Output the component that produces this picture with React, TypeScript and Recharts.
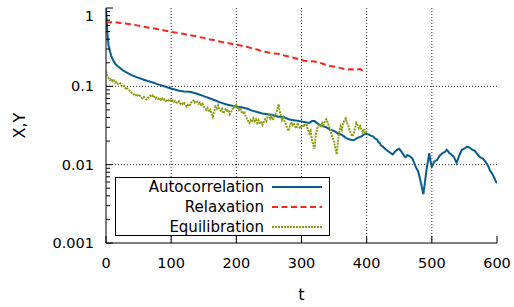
import React from 'react';
import { LineChart, Line, XAxis, YAxis, CartesianGrid, Legend } from 'recharts';

const autocorrelation: [number, number][] = [
  [0, 1.0], [1, 0.72], [2, 0.5], [3, 0.39], [4, 0.33], [6, 0.28], [8, 0.245], [11, 0.215], [15, 0.19],
  [20, 0.175], [26, 0.16], [32, 0.15], [40, 0.138], [48, 0.13], [56, 0.123], [64, 0.117], [72, 0.112],
  [80, 0.106], [88, 0.101], [96, 0.096], [104, 0.092], [112, 0.088], [120, 0.086], [128, 0.085], [136, 0.082],
  [144, 0.078], [152, 0.074], [160, 0.07], [168, 0.066], [176, 0.062], [184, 0.059], [192, 0.057], [200, 0.055],
  [208, 0.054], [216, 0.052], [224, 0.049], [232, 0.047], [240, 0.045], [248, 0.044], [256, 0.043], [264, 0.041],
  [272, 0.041], [280, 0.038], [288, 0.037], [296, 0.036], [304, 0.035], [312, 0.034], [316, 0.036], [320, 0.036],
  [326, 0.033], [332, 0.031], [338, 0.03], [344, 0.028], [350, 0.027], [356, 0.025], [362, 0.024], [368, 0.022],
  [374, 0.021], [380, 0.0205], [386, 0.022], [392, 0.023], [398, 0.025], [402, 0.0245], [406, 0.0235], [410, 0.023],
  [413, 0.0215], [416, 0.021], [418, 0.0195], [420, 0.019], [422, 0.0175], [425, 0.017], [427, 0.0162],
  [430, 0.0155], [433, 0.0148], [435, 0.0145], [438, 0.0138], [440, 0.0135], [443, 0.0145], [445, 0.015],
  [448, 0.0158], [450, 0.016], [453, 0.0148], [455, 0.014], [458, 0.0128], [460, 0.0125], [462, 0.0132],
  [465, 0.013], [468, 0.0124], [470, 0.012], [473, 0.0105], [475, 0.0095], [479, 0.0082], [483, 0.006],
  [487, 0.0042], [490, 0.0065], [492, 0.0088], [494, 0.011], [496, 0.014], [498, 0.011], [500, 0.0095],
  [504, 0.011], [508, 0.0115], [512, 0.013], [516, 0.014], [520, 0.0145], [523, 0.0155], [527, 0.014],
  [530, 0.0135], [534, 0.0125], [538, 0.0105], [542, 0.013], [546, 0.0155], [550, 0.016], [554, 0.017],
  [558, 0.0165], [562, 0.0155], [566, 0.015], [570, 0.0135], [574, 0.0125], [578, 0.012], [582, 0.011],
  [586, 0.0098], [589, 0.0085], [592, 0.0078], [595, 0.007], [598, 0.0062], [600, 0.0058],
];

const relaxation: [number, number][] = [
  [0, 0.66], [8, 0.66], [16, 0.655], [24, 0.645], [32, 0.63], [40, 0.615], [48, 0.6], [56, 0.58], [64, 0.565],
  [72, 0.55], [80, 0.535], [88, 0.52], [96, 0.505], [104, 0.49], [112, 0.478], [120, 0.465], [128, 0.45],
  [136, 0.44], [144, 0.425], [152, 0.41], [160, 0.395], [168, 0.385], [176, 0.37], [184, 0.36], [192, 0.35],
  [200, 0.34], [208, 0.33], [216, 0.32], [224, 0.305], [232, 0.295], [240, 0.28], [248, 0.272], [256, 0.263],
  [264, 0.26], [272, 0.25], [280, 0.24], [288, 0.232], [296, 0.222], [304, 0.212], [312, 0.21], [320, 0.208],
  [328, 0.2], [336, 0.19], [344, 0.182], [352, 0.177], [360, 0.172], [368, 0.164], [376, 0.165], [384, 0.163],
  [390, 0.166], [394, 0.158], [398, 0.148],
];

const equilibration: [number, number][] = [
  [0, 0.155], [2, 0.138], [4, 0.127], [6, 0.121], [8, 0.125], [10, 0.116], [12, 0.119], [14, 0.111], [16, 0.114],
  [18, 0.108], [20, 0.106], [22, 0.109], [24, 0.101], [26, 0.098], [28, 0.101], [30, 0.094], [32, 0.097],
  [34, 0.091], [36, 0.088], [38, 0.086], [40, 0.082], [42, 0.079], [44, 0.081], [46, 0.077], [48, 0.079],
  [50, 0.074], [52, 0.076], [54, 0.072], [56, 0.07], [58, 0.073], [60, 0.07], [62, 0.068], [64, 0.071],
  [66, 0.073], [68, 0.076], [70, 0.073], [72, 0.077], [74, 0.074], [76, 0.07], [78, 0.072], [80, 0.069],
  [82, 0.071], [84, 0.067], [86, 0.07], [88, 0.066], [90, 0.068], [92, 0.065], [94, 0.068], [96, 0.066],
  [98, 0.068], [100, 0.064], [102, 0.066], [104, 0.063], [106, 0.065], [108, 0.062], [110, 0.061], [112, 0.064],
  [114, 0.06], [116, 0.062], [118, 0.059], [120, 0.061], [122, 0.057], [124, 0.055], [126, 0.058], [128, 0.056],
  [130, 0.061], [132, 0.064], [134, 0.066], [136, 0.062], [138, 0.065], [140, 0.063], [142, 0.06], [144, 0.062],
  [146, 0.058], [148, 0.06], [150, 0.055], [152, 0.052], [154, 0.05], [156, 0.053], [158, 0.047], [160, 0.05],
  [162, 0.046], [164, 0.041], [166, 0.048], [168, 0.055], [170, 0.052], [172, 0.057], [174, 0.051], [176, 0.049],
  [178, 0.052], [180, 0.045], [182, 0.049], [184, 0.052], [186, 0.047], [188, 0.05], [190, 0.044], [192, 0.047],
  [194, 0.051], [196, 0.055], [198, 0.052], [200, 0.058], [202, 0.054], [204, 0.05], [206, 0.053], [208, 0.047],
  [210, 0.045], [212, 0.048], [214, 0.042], [216, 0.039], [218, 0.036], [220, 0.034], [222, 0.037], [224, 0.035],
  [226, 0.039], [228, 0.036], [230, 0.038], [232, 0.034], [234, 0.037], [236, 0.033], [238, 0.036], [240, 0.032],
  [242, 0.035], [244, 0.038], [246, 0.036], [248, 0.041], [250, 0.043], [252, 0.039], [254, 0.042], [256, 0.037],
  [258, 0.041], [260, 0.044], [262, 0.048], [264, 0.056], [265, 0.059], [266, 0.05], [268, 0.043], [270, 0.037],
  [272, 0.04], [274, 0.036], [276, 0.033], [278, 0.029], [280, 0.027], [282, 0.031], [284, 0.035], [286, 0.032],
  [288, 0.034], [290, 0.031], [292, 0.029], [294, 0.034], [296, 0.031], [298, 0.029], [300, 0.032], [302, 0.03],
  [304, 0.033], [306, 0.031], [308, 0.032], [310, 0.028], [312, 0.025], [314, 0.027], [316, 0.021], [318, 0.018],
  [320, 0.016], [322, 0.024], [324, 0.029], [326, 0.031], [328, 0.033], [330, 0.03], [332, 0.034], [334, 0.032],
  [336, 0.036], [338, 0.038], [340, 0.035], [342, 0.031], [344, 0.028], [346, 0.024], [348, 0.022], [350, 0.02],
  [352, 0.016], [354, 0.0135], [356, 0.02], [358, 0.027], [360, 0.031], [362, 0.028], [364, 0.034], [366, 0.037],
  [368, 0.039], [370, 0.034], [372, 0.031], [374, 0.027], [376, 0.025], [378, 0.023], [380, 0.025], [382, 0.029],
  [384, 0.034], [386, 0.032], [388, 0.029], [390, 0.031], [392, 0.028], [394, 0.026], [396, 0.029], [398, 0.025],
  [400, 0.027],
];

const xTicks = [0, 100, 200, 300, 400, 500, 600];
const xGrid = [100, 200, 300, 400, 500];
const yMajorTicks = [0.001, 0.01, 0.1, 1];
const yMinorTicks = [
  0.002, 0.003, 0.004, 0.005, 0.006, 0.007, 0.008, 0.009,
  0.02, 0.03, 0.04, 0.05, 0.06, 0.07, 0.08, 0.09,
  0.2, 0.3, 0.4, 0.5, 0.6, 0.7, 0.8, 0.9,
];
const yGrid = [0.01, 0.1];

const FONT = "'DejaVu Sans', sans-serif";

const toRows = (pairs: [number, number][]) => pairs.map(([t, v]) => ({ t, v }));

const series = [
  { name: 'Autocorrelation', data: toRows(autocorrelation), color: '#0a5e8e', dash: undefined as string | undefined },
  { name: 'Relaxation', data: toRows(relaxation), color: '#f5281e', dash: '6 3.5' },
  { name: 'Equilibration', data: toRows(equilibration), color: '#8c9c10', dash: '2 1' },
];

const allYTicks = [...yMajorTicks, ...yMinorTicks];

const LeftTick = (props: any) => {
  const { x, y, payload } = props;
  const v = payload.value;
  const major = yMajorTicks.includes(v);
  return (
    <g>
      <line x1={x} x2={x + (major ? 7 : 4)} y1={y} y2={y} stroke="#000" />
      {major && (
        <text x={x - 12} y={Math.max(y, 16)} textAnchor="end" dominantBaseline="central"
          fontSize={14.5} fontFamily={FONT} fill="#000">{String(v)}</text>
      )}
    </g>
  );
};

const RightTick = (props: any) => {
  const { x, y, payload } = props;
  const major = yMajorTicks.includes(payload.value);
  return <line x1={x} x2={x - (major ? 7 : 4)} y1={y} y2={y} stroke="#000" />;
};

const BottomTick = (props: any) => {
  const { x, y, payload } = props;
  return (
    <g>
      <line x1={x} x2={x} y1={y} y2={y - 7} stroke="#000" />
      <text x={x} y={y + 20} textAnchor="middle" dominantBaseline="central"
        fontSize={14.5} fontFamily={FONT} fill="#000">{String(payload.value)}</text>
    </g>
  );
};

const TopTick = (props: any) => {
  const { x, y } = props;
  return <line x1={x} x2={x} y1={y} y2={y + 7} stroke="#000" />;
};

const YTitle = (props: any) => {
  const vb = props.viewBox || { x: 0, y: 8, width: 106, height: 235 };
  const cx = vb.x + 19;
  const cy = vb.y + vb.height / 2;
  return (
    <text x={cx} y={cy} transform={`rotate(-90 ${cx} ${cy})`} textAnchor="middle" dominantBaseline="central"
      fontSize={16} fontFamily={FONT} fill="#000">X,Y</text>
  );
};

const XTitle = (props: any) => {
  const vb = props.viewBox || { x: 106, y: 243, width: 391, height: 64 };
  return (
    <text x={vb.x + vb.width / 2} y={vb.y + 57} textAnchor="middle"
      fontSize={16} fontFamily={FONT} fill="#000">t</text>
  );
};

const LegendBox = () => (
  <div style={{ width: 215, height: 59, border: '1px solid #000', boxSizing: 'border-box', background: '#fff' }}>
    <svg width={213} height={57} style={{ display: 'block' }}>
      {series.map((s, i) => (
        <g key={s.name}>
          <text x={148} y={9 + 20 * i} textAnchor="end" dominantBaseline="central"
            fontSize={15} fontFamily={FONT} fill="#000">{s.name}</text>
          <line x1={156} x2={206} y1={9 + 20 * i} y2={9 + 20 * i} stroke={s.color} strokeWidth={2}
            strokeDasharray={s.dash} />
        </g>
      ))}
    </svg>
  </div>
);

export default function App() {
  return (
    <div style={{ width: 514, height: 307, background: '#fff' }}>
      <style>{'body{margin:0;background:#fff;}'}</style>
      <LineChart width={514} height={307} margin={{ top: 8, right: 17, bottom: 0, left: 0 }}>
        <CartesianGrid xAxisId="b" yAxisId="l" stroke="#333" strokeDasharray="1 2"
          horizontalValues={yGrid} verticalValues={xGrid} />
        <XAxis xAxisId="b" dataKey="t" type="number" domain={[0, 600]} allowDataOverflow ticks={xTicks}
          interval={0} height={64} tick={<BottomTick />} tickLine={false} tickSize={0} tickMargin={0}
          axisLine={{ stroke: '#000' }} label={<XTitle />} />
        <XAxis xAxisId="top" orientation="top" dataKey="t" type="number" domain={[0, 600]} allowDataOverflow
          ticks={xTicks} interval={0} height={0} tick={<TopTick />} tickLine={false} tickSize={0} tickMargin={0}
          axisLine={{ stroke: '#000' }} />
        <YAxis yAxisId="l" type="number" scale="log" domain={[0.001, 1]} allowDataOverflow ticks={allYTicks}
          interval={0} width={106} tick={<LeftTick />} tickLine={false} tickSize={0} tickMargin={0}
          axisLine={{ stroke: '#000' }} label={<YTitle />} />
        <YAxis yAxisId="r" orientation="right" type="number" scale="log" domain={[0.001, 1]} allowDataOverflow
          ticks={allYTicks} interval={0} width={0} tick={<RightTick />} tickLine={false} tickSize={0} tickMargin={0}
          axisLine={{ stroke: '#000' }} />
        {series.map((s) => (
          <Line key={s.name} xAxisId="b" yAxisId="l" data={s.data} dataKey="v" name={s.name} type="linear"
            stroke={s.color} strokeWidth={2} strokeDasharray={s.dash} dot={false} activeDot={false}
            isAnimationActive={false} />
        ))}
        <Legend layout="vertical" align="center" verticalAlign="middle" content={<LegendBox />}
          wrapperStyle={{ left: 115, top: 177, width: 215, height: 59 }} />
      </LineChart>
    </div>
  );
}
